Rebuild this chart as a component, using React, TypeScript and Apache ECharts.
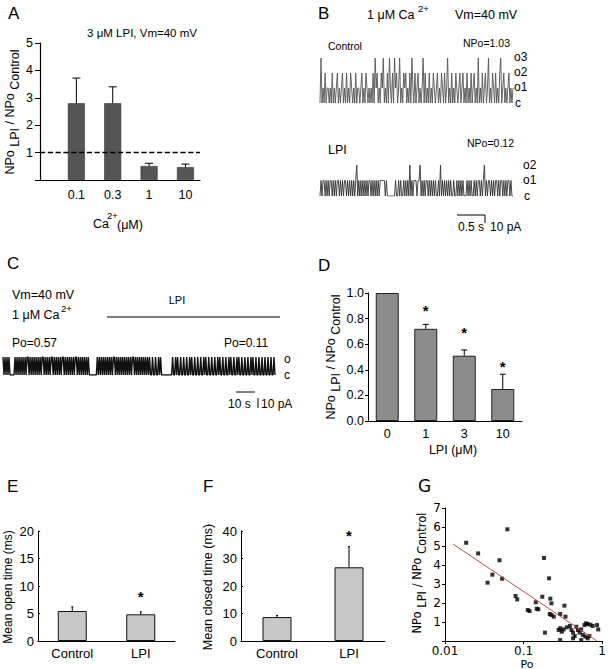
import React, { useEffect, useRef } from 'react';
import * as echarts from 'echarts';

const FONT = '"Liberation Sans", Arial, sans-serif';
const FONT_G = '"DejaVu Sans", sans-serif';

// Panel A: NPo ratio vs Ca2+
const caCategories = ['0.1', '0.3', '1', '10'];
const caRatio = [2.8, 2.8, 0.51, 0.47];
const caErr = [0.92, 0.6, 0.1, 0.11];

// Panel D: NPo ratio vs LPI
const lpiConc = ['0', '1', '3', '10'];
const lpiRatio = [1.0, 0.72, 0.51, 0.25];
const lpiErr = [0, 0.035, 0.045, 0.115];
const lpiStars = [null, 0.883, 0.711, 0.453];

// Panel E / F
const groups = ['Control', 'LPI'];
const openTime = [5.45, 4.85];
const openErr = [0.75, 0.45];
const openStars = [null, 8.7];
const closedTime = [8.7, 26.8];
const closedErr = [0.6, 7.5];
const closedStars = [null, 39.6];

// Panel G: scatter
const poValues = [
  0.0186, 0.0264, 0.0621, 0.0494, 0.0401, 0.0348, 0.0533, 0.1817, 0.211,
  0.079, 0.083, 0.113, 0.119, 0.143, 0.147, 0.154, 0.173, 0.219, 0.226, 0.215, 0.226, 0.242,
  0.187, 0.292, 0.331, 0.341, 0.279, 0.292, 0.306, 0.322, 0.354, 0.292, 0.388, 0.406, 0.426,
  0.447, 0.469, 0.492, 0.516, 0.541, 0.567, 0.595, 0.624, 0.654, 0.708, 0.757, 0.86, 0.89,
  0.61, 0.654, 0.687, 0.541, 0.426,
];
const ratioValues = [
  5.17, 4.61, 5.88, 4.25, 3.49, 3.07, 3.28, 4.37, 3.30,
  2.37, 2.19, 1.63, 1.58, 2.04, 1.70, 1.67, 2.33, 2.23, 1.98, 1.42, 1.37, 1.28,
  0.44, 1.42, 1.86, 1.28, 0.58, 0.67, 0.49, 0.61, 0.72, 0.05, 0.79, 0.58, 0.14,
  0.26, 0.75, 0.58, 0.44, 0.61, 0.32, 0.84, 0.93, 0.89, 0.86, 0.79, 0.84, 0.61,
  0.23, 0.14, 0.26, 0.05, 0.44,
];
const fitPo = [0.0127, 0.86];
const fitRatio = [5.1, 0];

// Panel B / C single-channel traces (current level per sample)
const controlTrace =
  '0301020110' + '1020101201' + '0120102010' + '2101020110' + '1201021010' +
  '1020312010' + '2130102031' + '0203120130' + '1021201020' + '3102012010' +
  '1302010201' + '0210120102' + '1020130102' + '0102101201' + '2010201020' +
  '1201030102' + '0120130102' + '1020102301' + '2010120101';
const lpiTrace =
  '0101101010' + '1101010110' + '1010110101' + '0101012010' + '1010101011' +
  '0101010101' + '1111010000' + '0000100101' + '0010101020' + '1011101120' +
  '1010110101' + '0101001020' + '1010101010' + '0100101010' + '1000101010' +
  '0101011010' + '1201011010' + '1011010110' + '1010110100';
const timeCourse =
  '1010101000' + '0010101010' + '1010110101' + '0101010101' + '1010101011' +
  '0101010101' + '1010101010' + '1011010101' + '0101010000' + '0000101010' +
  '1010101010' + '1101010101' + '0101010101' + '1010101010' + '1010101001' +
  '0010010100' + '0000000001' + '0010100100' + '1001001010' + '0100100100' +
  '1010010010' + '0100101001' + '0010010100' + '1001010010' + '0100100101' +
  '0010010010' + '0100100100' + '10';

const black = '#000';

function errSeries(ax: number, vals: number[], errs: number[], capW: number, xs?: number[]) {
  return {
    type: 'custom', xAxisIndex: ax, yAxisIndex: ax, z: 5, silent: true,
    data: vals.map((v, i) => [xs ? xs[i] : i, v, errs[i]]),
    renderItem: (_p: any, api: any) => {
      const x = api.value(0), v = api.value(1), e = api.value(2);
      if (!e) return { type: 'group', children: [] };
      const a = api.coord([x, v]);
      const b = api.coord([x, v + e]);
      return {
        type: 'group',
        children: [
          { type: 'line', shape: { x1: a[0], y1: a[1], x2: b[0], y2: b[1] }, style: { stroke: black, lineWidth: 1 } },
          { type: 'line', shape: { x1: b[0] - capW / 2, y1: b[1], x2: b[0] + capW / 2, y2: b[1] }, style: { stroke: black, lineWidth: 1 } },
        ],
      };
    },
  };
}

function starSeries(ax: number, stars: (number | null)[]) {
  const data: number[][] = [];
  stars.forEach((s, i) => { if (s != null) data.push([i, s]); });
  return {
    type: 'custom', xAxisIndex: ax, yAxisIndex: ax, z: 6, silent: true, data,
    renderItem: (_p: any, api: any) => {
      const c = api.coord([api.value(0), api.value(1)]);
      return {
        type: 'text', x: c[0], y: c[1] + 3,
        style: { text: '*', fontSize: 15, fontWeight: 'bold', fontFamily: FONT, fill: black, align: 'center', verticalAlign: 'middle' },
      };
    },
  };
}

const lbl = (fs: number, margin: number, extra: any = {}) => ({ color: black, fontSize: fs, fontFamily: FONT, margin, ...extra });
const aLine = (w = 1) => ({ show: true, onZero: false, lineStyle: { color: black, width: w } });

function t(text: string, x: number, y: number, fs: number, extra: any = {}) {
  return { type: 'text', x, y, silent: true, style: { text, fontSize: fs, fontFamily: FONT, fill: black, align: 'left', verticalAlign: 'middle', ...extra } };
}
function ln(x1: number, y1: number, x2: number, y2: number, w = 1) {
  return { type: 'line', silent: true, shape: { x1, y1, x2, y2 }, style: { stroke: black, lineWidth: w } };
}
function ratioName(x: number, y: number, fs: number, family: string) {
  return {
    type: 'text', x, y, rotation: Math.PI / 2, silent: true,
    style: {
      text: '{n|NPo }{s|LPI }{n|/ NPo }{s|Control}',
      align: 'center', verticalAlign: 'middle', fill: black,
      rich: {
        n: { fontSize: fs, fontFamily: family, lineHeight: fs + 1, padding: [0, 0, 5, 0], fill: black },
        s: { fontSize: fs, fontFamily: family, lineHeight: fs + 1, padding: [5, 0, 0, 0], fill: black },
      },
    },
  };
}

export default function App() {
  const ref = useRef<HTMLDivElement>(null);
  useEffect(() => {
    if (!ref.current) return;
    const chart = echarts.init(ref.current, null, { renderer: 'svg' });
    const traceAxisX = (gi: number, len: number) => ({ gridIndex: gi, type: 'value', min: 0, max: len - 1, show: false });
    const traceAxisY = (gi: number, max: number) => ({ gridIndex: gi, type: 'value', min: 0, max, show: false });
    const toPts = (s: string) => s.split('').map((c, i) => [i, Number(c)]);

    const option: any = {
      animation: false,
      textStyle: { fontFamily: FONT },
      grid: [
        { left: 40, top: 43, width: 160, height: 137 },   // A
        { left: 368, top: 293, width: 154, height: 128 }, // D
        { left: 38, top: 531, width: 137, height: 110 },  // E
        { left: 241, top: 531, width: 144, height: 110 }, // F
        { left: 445, top: 508, width: 162, height: 133 }, // G
        { left: 320, top: 58, width: 193, height: 45 },   // B control
        { left: 320, top: 165, width: 193, height: 31 },  // B LPI
        { left: 3, top: 357, width: 272, height: 18 },    // C
      ],
      xAxis: [
        {
          gridIndex: 0, type: 'value', min: 0, max: 4.4, interval: 1,
          axisLine: aLine(1.2), axisTick: { show: false }, splitLine: { show: false },
          axisLabel: lbl(12.5, 8, { showMaxLabel: false, formatter: (v: number) => caCategories[v - 1] ?? '' }),
        },
        {
          gridIndex: 1, type: 'category', data: lpiConc,
          axisLine: aLine(1), axisTick: { show: false }, axisLabel: lbl(12.5, 6),
        },
        { gridIndex: 2, type: 'category', data: groups, axisLine: aLine(1), axisTick: { show: false }, axisLabel: lbl(13, 6) },
        { gridIndex: 3, type: 'category', data: groups, axisLine: aLine(1), axisTick: { show: false }, axisLabel: lbl(13, 6) },
        {
          gridIndex: 4, type: 'log', logBase: 10, min: 0.01, max: 1,
          axisLine: aLine(1), axisTick: { show: true, length: 3, lineStyle: { color: black } }, splitLine: { show: false },
          axisLabel: { color: black, fontSize: 12, fontFamily: FONT_G, margin: 4 },
        },
        traceAxisX(5, controlTrace.length),
        traceAxisX(6, lpiTrace.length),
        traceAxisX(7, timeCourse.length),
      ],
      yAxis: [
        {
          gridIndex: 0, type: 'value', min: 0, max: 5, interval: 1,
          axisLine: aLine(1.2), axisTick: { show: true, length: 5, lineStyle: { color: black } }, splitLine: { show: false },
          axisLabel: lbl(12.5, 7, { formatter: (v: number) => (v === 0 ? '' : String(v)) }),
        },
        {
          gridIndex: 1, type: 'value', min: 0, max: 1, interval: 0.2,
          axisLine: aLine(1), axisTick: { show: true, length: 3, lineStyle: { color: black } }, splitLine: { show: false },
          axisLabel: lbl(12.5, 4, { formatter: (v: number) => v.toFixed(1) }),
        },
        {
          gridIndex: 2, type: 'value', min: 0, max: 20, interval: 5,
          axisLine: aLine(1), axisTick: { show: true, inside: true, length: 2, lineStyle: { color: black } }, splitLine: { show: false },
          axisLabel: lbl(13, 4),
        },
        {
          gridIndex: 3, type: 'value', min: 0, max: 40, interval: 10,
          axisLine: aLine(1), axisTick: { show: true, inside: true, length: 2, lineStyle: { color: black } }, splitLine: { show: false },
          axisLabel: lbl(13, 4),
        },
        {
          gridIndex: 4, type: 'value', min: 0, max: 7, interval: 1,
          axisLine: aLine(1), axisTick: { show: true, length: 3, lineStyle: { color: black } }, splitLine: { show: false },
          axisLabel: { color: black, fontSize: 12, fontFamily: FONT_G, margin: 4, formatter: (v: number) => (v === 0 ? '' : String(v)) },
        },
        traceAxisY(5, 3),
        traceAxisY(6, 2),
        traceAxisY(7, 1),
      ],
      series: [
        {
          type: 'bar', xAxisIndex: 0, yAxisIndex: 0, barWidth: 17,
          data: caRatio.map((v, i) => [i + 1, v]),
          itemStyle: { color: '#555', borderColor: '#333', borderWidth: 0.6 },
          markLine: {
            silent: true, symbol: ['none', 'none'], label: { show: false },
            lineStyle: { type: 'dashed', color: black, width: 1.3 },
            data: [{ yAxis: 1 }],
          },
        },
        errSeries(0, caRatio, caErr, 8, [1, 2, 3, 4]),
        {
          type: 'bar', xAxisIndex: 1, yAxisIndex: 1, barWidth: 23, data: lpiRatio,
          itemStyle: { color: '#8c8c8c', borderColor: '#222', borderWidth: 1 },
        },
        errSeries(1, lpiRatio, lpiErr, 6),
        starSeries(1, lpiStars),
        {
          type: 'bar', xAxisIndex: 2, yAxisIndex: 2, barWidth: 29, data: openTime,
          itemStyle: { color: '#c8c8c8', borderColor: '#111', borderWidth: 1 },
        },
        errSeries(2, openTime, openErr, 2),
        starSeries(2, openStars),
        {
          type: 'bar', xAxisIndex: 3, yAxisIndex: 3, barWidth: 29, data: closedTime,
          itemStyle: { color: '#c8c8c8', borderColor: '#111', borderWidth: 1 },
        },
        errSeries(3, closedTime, closedErr, 2),
        starSeries(3, closedStars),
        {
          type: 'scatter', xAxisIndex: 4, yAxisIndex: 4, symbol: 'rect', symbolSize: 4,
          itemStyle: { color: black }, data: poValues.map((p, i) => [p, ratioValues[i]]),
        },
        {
          type: 'line', xAxisIndex: 4, yAxisIndex: 4, symbol: 'none', silent: true,
          lineStyle: { color: '#c0504d', width: 1 }, data: fitPo.map((p, i) => [p, fitRatio[i]]),
        },
        {
          type: 'line', xAxisIndex: 5, yAxisIndex: 5, symbol: 'none', silent: true,
          lineStyle: { color: '#555', width: 0.9 }, data: toPts(controlTrace),
        },
        {
          type: 'line', xAxisIndex: 6, yAxisIndex: 6, symbol: 'none', silent: true,
          lineStyle: { color: '#333', width: 0.9 }, data: toPts(lpiTrace),
        },
        {
          type: 'line', xAxisIndex: 7, yAxisIndex: 7, symbol: 'none', silent: true,
          lineStyle: { color: '#111', width: 1.4 }, data: toPts(timeCourse),
        },
      ],
      graphic: [
        // panel letters
        t('A', 8, 13, 17), t('B', 318, 13, 17), t('C', 7, 263, 17), t('D', 318, 265, 17),
        t('E', 7, 486, 17), t('F', 203, 486, 17), t('G', 418, 486, 17, { fontFamily: FONT_G }),
        // A
        t('3 μM LPI, Vm=40 mV', 142, 33, 11.5, { align: 'center' }),
        ratioName(12, 112, 12.5, FONT),
        t('Ca', 93, 224, 12.5), t('2+', 107, 215, 9.5), t('(μM)', 117, 225, 12.5),
        // B
        t('1 μM Ca', 367, 15, 12.5), t('2+', 418, 8, 9.5), t('Vm=40 mV', 455, 15, 12.5),
        t('Control', 328, 46, 10.5), t('NPo=1.03', 463, 43, 10.5),
        t('o3', 514, 57, 12), t('o2', 514, 72, 12), t('o1', 514, 87, 12), t('c', 515, 103, 12),
        t('LPI', 328, 150, 12.5), t('NPo=0.12', 467, 143, 10.5),
        t('o2', 523, 165, 12), t('o1', 523, 180, 12), t('c', 524, 196, 12),
        ln(457, 215, 485, 215), ln(485, 215, 485, 223),
        t('0.5 s', 458, 227, 12), t('10 pA', 490, 227, 12),
        // C
        t('Vm=40 mV', 12, 295, 12.5), t('1 μM Ca', 12, 315, 12.5), t('2+', 61, 308, 9.5),
        t('LPI', 177, 300, 11, { align: 'center' }), ln(107, 317, 280, 317),
        t('Po=0.57', 12, 343, 12), t('Po=0.11', 224, 343, 12),
        t('o', 284, 359, 12), t('c', 284, 375, 12),
        ln(236, 392, 255, 392), ln(258, 398, 258, 408),
        t('10 s', 228, 404, 12), t('10 pA', 261, 404, 12),
        // D
        ratioName(333, 357, 12.5, FONT),
        t('LPI (μM)', 453, 450, 12.5, { align: 'center' }),
        // E / F
        {
          type: 'text', x: 8, y: 587, rotation: Math.PI / 2, silent: true,
          style: { text: 'Mean open time (ms)', fontSize: 12, fontFamily: FONT, fill: black, align: 'center', verticalAlign: 'middle' },
        },
        {
          type: 'text', x: 208, y: 587, rotation: Math.PI / 2, silent: true,
          style: { text: 'Mean closed time (ms)', fontSize: 12.5, fontFamily: FONT, fill: black, align: 'center', verticalAlign: 'middle' },
        },
        // G
        ratioName(419, 573, 11.5, FONT_G),
        t('Po', 527, 664, 11, { align: 'center', fontFamily: FONT_G }),
      ],
    };
    chart.setOption(option);
    return () => chart.dispose();
  }, []);
  return <div ref={ref} style={{ position: 'fixed', left: 0, top: 0, width: 609, height: 669, background: '#fff' }} />;
}
